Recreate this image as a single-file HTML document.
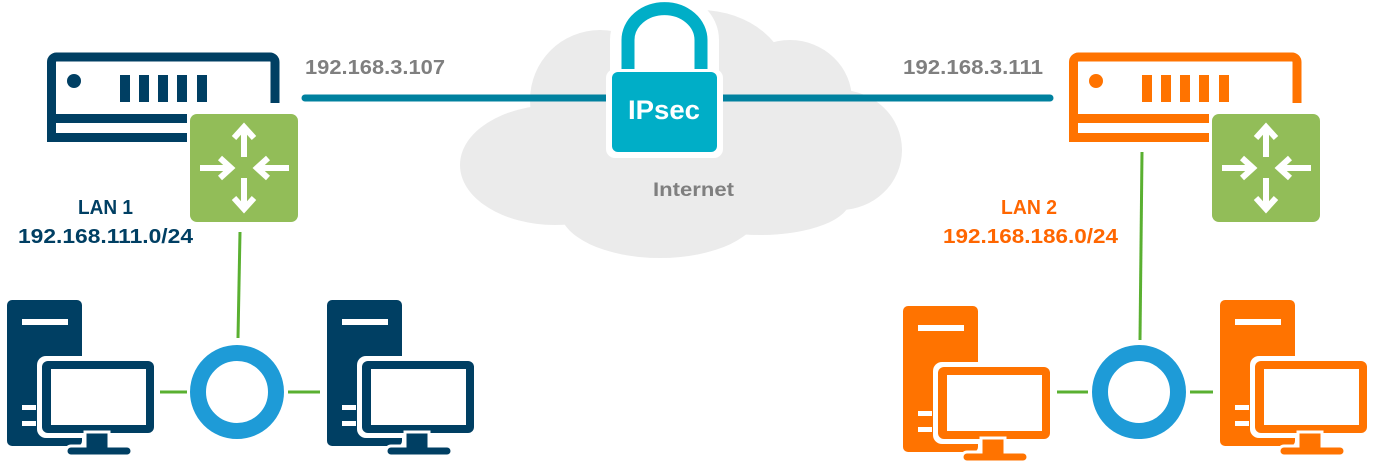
<!DOCTYPE html>
<html><head><meta charset="utf-8"><style>
html,body{margin:0;padding:0;background:#fff;}
svg{display:block;}
text{font-family:"Liberation Sans",sans-serif;font-weight:bold;}
</style></head><body>
<svg width="1374" height="469" viewBox="0 0 1374 469" xmlns="http://www.w3.org/2000/svg">
<defs>
<g id="router">
  <path d="M51.5,137.5 V62 a5,5 0 0 1 5,-5 H270 a5,5 0 0 1 5,5 V103" fill="none" stroke-width="9" stroke="currentColor"/>
  <rect x="47" y="114" width="140" height="9" fill="currentColor"/>
  <rect x="47" y="133" width="140" height="9" fill="currentColor"/>
  <rect x="47" y="114" width="9" height="28" fill="currentColor"/>
  <circle cx="74" cy="81" r="7" fill="currentColor"/>
  <rect x="120" y="75" width="10" height="27" fill="currentColor"/>
  <rect x="139" y="75" width="10" height="27" fill="currentColor"/>
  <rect x="158" y="75" width="10" height="27" fill="currentColor"/>
  <rect x="177" y="75" width="10" height="27" fill="currentColor"/>
  <rect x="197" y="75" width="10" height="27" fill="currentColor"/>
  <rect x="187" y="111" width="114" height="114" rx="8" fill="#fff"/>
  <rect x="190" y="114" width="108" height="108" rx="7" fill="#92bd58"/>
  <g stroke="#fff" stroke-width="6" fill="none">
    <line x1="244" y1="128" x2="244" y2="157"/>
    <polyline points="234,138 244,127 254,138"/>
    <line x1="244" y1="178" x2="244" y2="208"/>
    <polyline points="234,198 244,209 254,198"/>
    <line x1="200" y1="168" x2="230" y2="168"/>
    <polyline points="220,158 231,168 220,178"/>
    <line x1="258" y1="168" x2="289" y2="168"/>
    <polyline points="268,158 257,168 268,178"/>
  </g>
</g>
<g id="pc">
  <rect x="7" y="300" width="75" height="146" rx="5" fill="currentColor"/>
  <rect x="22" y="319" width="46" height="6" fill="#fff"/>
  <rect x="22" y="405" width="14" height="5" fill="#fff"/>
  <rect x="22" y="421" width="14" height="5" fill="#fff"/>
  <rect x="37" y="356" width="122" height="82" rx="9" fill="#fff"/>
  <rect x="42" y="361" width="112" height="72" rx="6" fill="currentColor"/>
  <rect x="51" y="369" width="95" height="56" fill="#fff"/>
  <path d="M85,432 h24 v14 h18 a5,5 0 0 1 0,10 h-56 a5,5 0 0 1 0,-10 h14z" fill="currentColor" stroke="#fff" stroke-width="3"/>
</g>
</defs>

<!-- cloud -->
<g fill="#ebebeb">
  <ellipse cx="555" cy="165" rx="95" ry="60"/>
  <ellipse cx="600" cy="100" rx="70" ry="70"/>
  <ellipse cx="700" cy="85" rx="90" ry="75"/>
  <ellipse cx="790" cy="100" rx="62" ry="60"/>
  <ellipse cx="840" cy="150" rx="62" ry="60"/>
  <ellipse cx="700" cy="170" rx="150" ry="65"/>
  <ellipse cx="660" cy="210" rx="100" ry="48"/>
  <ellipse cx="760" cy="200" rx="90" ry="35"/>
  <ellipse cx="560" cy="195" rx="80" ry="25"/>
</g>

<!-- tunnel line -->
<line x1="305" y1="98" x2="1050" y2="98" stroke="#00819f" stroke-width="7" stroke-linecap="round"/>

<!-- lock -->
<path d="M622,72 V40 a42,36 0 0 1 85,0 V72" fill="none" stroke="#fff" stroke-width="24"/>
<path d="M628,72 V40 a36,31 0 0 1 73,0 V72" fill="#fff" stroke="#00aec7" stroke-width="13"/>
<rect x="606" y="69" width="117" height="89" rx="9" fill="#fff"/>
<rect x="612" y="72" width="105" height="80" rx="6" fill="#00aec7"/>
<text x="628" y="119" font-size="27" fill="#fff" textLength="72" lengthAdjust="spacingAndGlyphs">IPsec</text>
<text x="653" y="196" font-size="19" fill="#7f7f7f" textLength="81" lengthAdjust="spacingAndGlyphs">Internet</text>

<text x="305" y="74" font-size="20" fill="#7f7f7f" textLength="140" lengthAdjust="spacingAndGlyphs">192.168.3.107</text>
<text x="903" y="74" font-size="20" fill="#7f7f7f" textLength="140" lengthAdjust="spacingAndGlyphs">192.168.3.111</text>

<!-- left side -->
<g color="#003f63"><use href="#router"/></g>
<line x1="240" y1="232" x2="238" y2="338" stroke="#5ab031" stroke-width="3"/>
<line x1="160" y1="392" x2="187" y2="392" stroke="#5ab031" stroke-width="3"/>
<line x1="288" y1="392" x2="320" y2="392" stroke="#5ab031" stroke-width="3"/>
<circle cx="237" cy="392" r="39" fill="none" stroke="#1e9bd7" stroke-width="16"/>
<g color="#003f63"><use href="#pc"/><use href="#pc" transform="translate(320,0)"/></g>
<text x="78" y="214" font-size="20" fill="#003f63" textLength="55" lengthAdjust="spacingAndGlyphs">LAN 1</text>
<text x="18" y="243" font-size="20" fill="#003f63" textLength="175" lengthAdjust="spacingAndGlyphs">192.168.111.0/24</text>

<!-- right side -->
<g color="#ff7300" transform="translate(1022,0)"><use href="#router"/></g>
<line x1="1142" y1="152" x2="1140" y2="340" stroke="#5ab031" stroke-width="3"/>
<line x1="1057" y1="392" x2="1088" y2="392" stroke="#5ab031" stroke-width="3"/>
<line x1="1190" y1="392" x2="1213" y2="392" stroke="#5ab031" stroke-width="3"/>
<circle cx="1139" cy="392" r="39" fill="none" stroke="#1e9bd7" stroke-width="16"/>
<g color="#ff7300"><use href="#pc" transform="translate(896,6)"/><use href="#pc" transform="translate(1213,0)"/></g>
<text x="1001" y="214" font-size="20" fill="#ff6600" textLength="56" lengthAdjust="spacingAndGlyphs">LAN 2</text>
<text x="943" y="243" font-size="20" fill="#ff6600" textLength="175" lengthAdjust="spacingAndGlyphs">192.168.186.0/24</text>
</svg>
</body></html>
